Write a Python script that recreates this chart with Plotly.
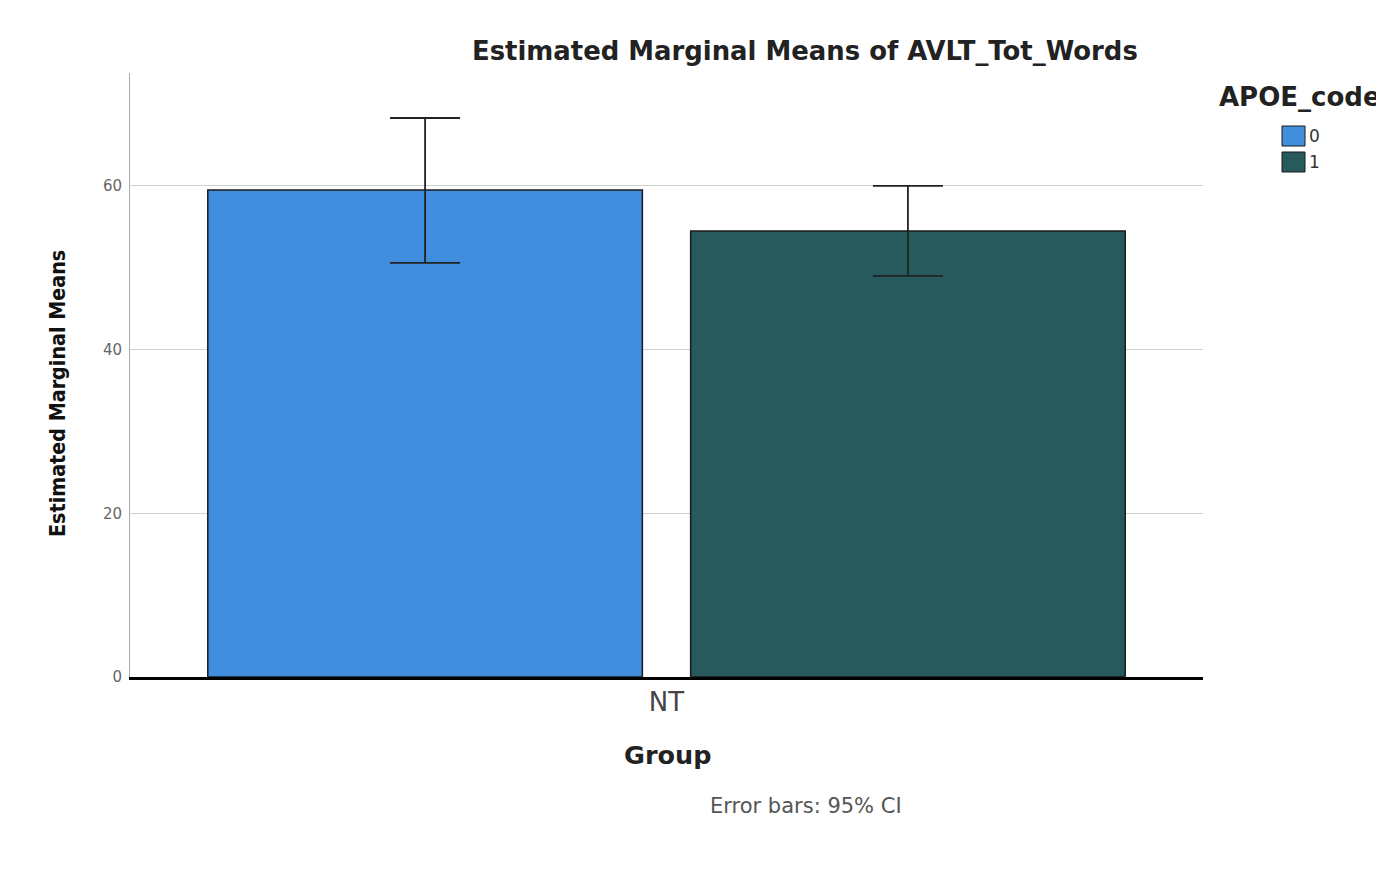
import plotly.graph_objects as go

categories = ["NT"]
apoe_codes = ["0", "1"]
means = [59.5, 54.5]
ci_lower = [50.6, 49.0]
ci_upper = [68.3, 60.0]
colors = ["#418DDE", "#265A5C"]
y_ticks = [0, 20, 40, 60]

# page coordinates (the html body has an 8px margin)
OFF = 8
PAGE_W, PAGE_H = 1384, 878
W, H = PAGE_W - OFF, PAGE_H - OFF
L, R, T, B = 130, 1203, 73, 677  # plot area in page pixels


def px(x):
    return (x - L) / (R - L)


def py(y):
    return (B - y) / (B - T)


fig = go.Figure()
for i, code in enumerate(apoe_codes):
    fig.add_trace(go.Bar(
        x=categories, y=[means[i]], name=code,
        marker=dict(color=colors[i], line=dict(color="#1a1a1a", width=1.5)),
        error_y=dict(type="data", symmetric=False,
                     array=[ci_upper[i] - means[i]],
                     arrayminus=[means[i] - ci_lower[i]],
                     color="#222222", thickness=1.8, width=35),
        showlegend=False,
    ))

BOLD = "DejaVu Sans, Arial, sans-serif"
ann = []
ann.append(dict(text="<b>Estimated Marginal Means of AVLT_Tot_Words</b>", x=px(805), y=py(51),
                xref="paper", yref="paper", showarrow=False, xanchor="center", yanchor="middle",
                font=dict(family=BOLD, size=25.9, color="#222")))
ann.append(dict(text="<b>Estimated Marginal Means</b>", x=px(57), y=py(394), textangle=-90,
                xref="paper", yref="paper", showarrow=False, xanchor="center", yanchor="middle",
                font=dict(family="DejaVu Sans Condensed, Liberation Sans Narrow, sans-serif", size=21.3, color="#111")))
ann.append(dict(text="<b>Group</b>", x=px(667), y=py(755),
                xref="paper", yref="paper", showarrow=False, xanchor="center", yanchor="middle",
                font=dict(family=BOLD, size=25.5, color="#222")))
ann.append(dict(text="Error bars: 95% CI", x=px(806), y=py(806),
                xref="paper", yref="paper", showarrow=False, xanchor="center", yanchor="middle",
                font=dict(family="DejaVu Sans, sans-serif", size=21, color="#555")))
ann.append(dict(text="<b>APOE_code</b>", x=px(1217), y=py(97),
                xref="paper", yref="paper", showarrow=False, xanchor="left", yanchor="middle",
                font=dict(family=BOLD, size=26, color="#222")))

shapes = []
legend_rows = [136, 162]
for i, code in enumerate(apoe_codes):
    yc = legend_rows[i]
    shapes.append(dict(type="rect", xref="paper", yref="paper",
                       x0=px(1282), x1=px(1305), y0=py(yc - 10), y1=py(yc + 10),
                       fillcolor=colors[i], line=dict(color="#1a1a1a", width=1)))
    ann.append(dict(text=code, x=px(1307), y=py(yc), xref="paper", yref="paper",
                    showarrow=False, xanchor="left", yanchor="middle",
                    font=dict(family="DejaVu Sans, sans-serif", size=17, color="#333")))

fig.update_layout(
    width=W, height=H,
    margin=dict(l=L - OFF, r=W - (R - OFF), t=T - OFF, b=H - (B - OFF), pad=0),
    paper_bgcolor="white", plot_bgcolor="white",
    barmode="group", bargap=0.1, bargroupgap=0.1,
    annotations=ann, shapes=shapes,
    xaxis=dict(showline=True, linecolor="black", linewidth=3, showgrid=False,
               ticks="", tickfont=dict(family="DejaVu Sans, sans-serif", size=26, color="#444")),
    yaxis=dict(range=[0, 73.8], tickvals=y_ticks, showline=True, linecolor="#aaaaaa", linewidth=1,
               showgrid=True, gridcolor="#d0d0d0", gridwidth=1, zeroline=False,
               ticks="outside", ticklen=4, tickcolor="white",
               tickfont=dict(family="DejaVu Sans, sans-serif", size=15, color="#666")),
    showlegend=False,
)

fig.write_html("out.html")
